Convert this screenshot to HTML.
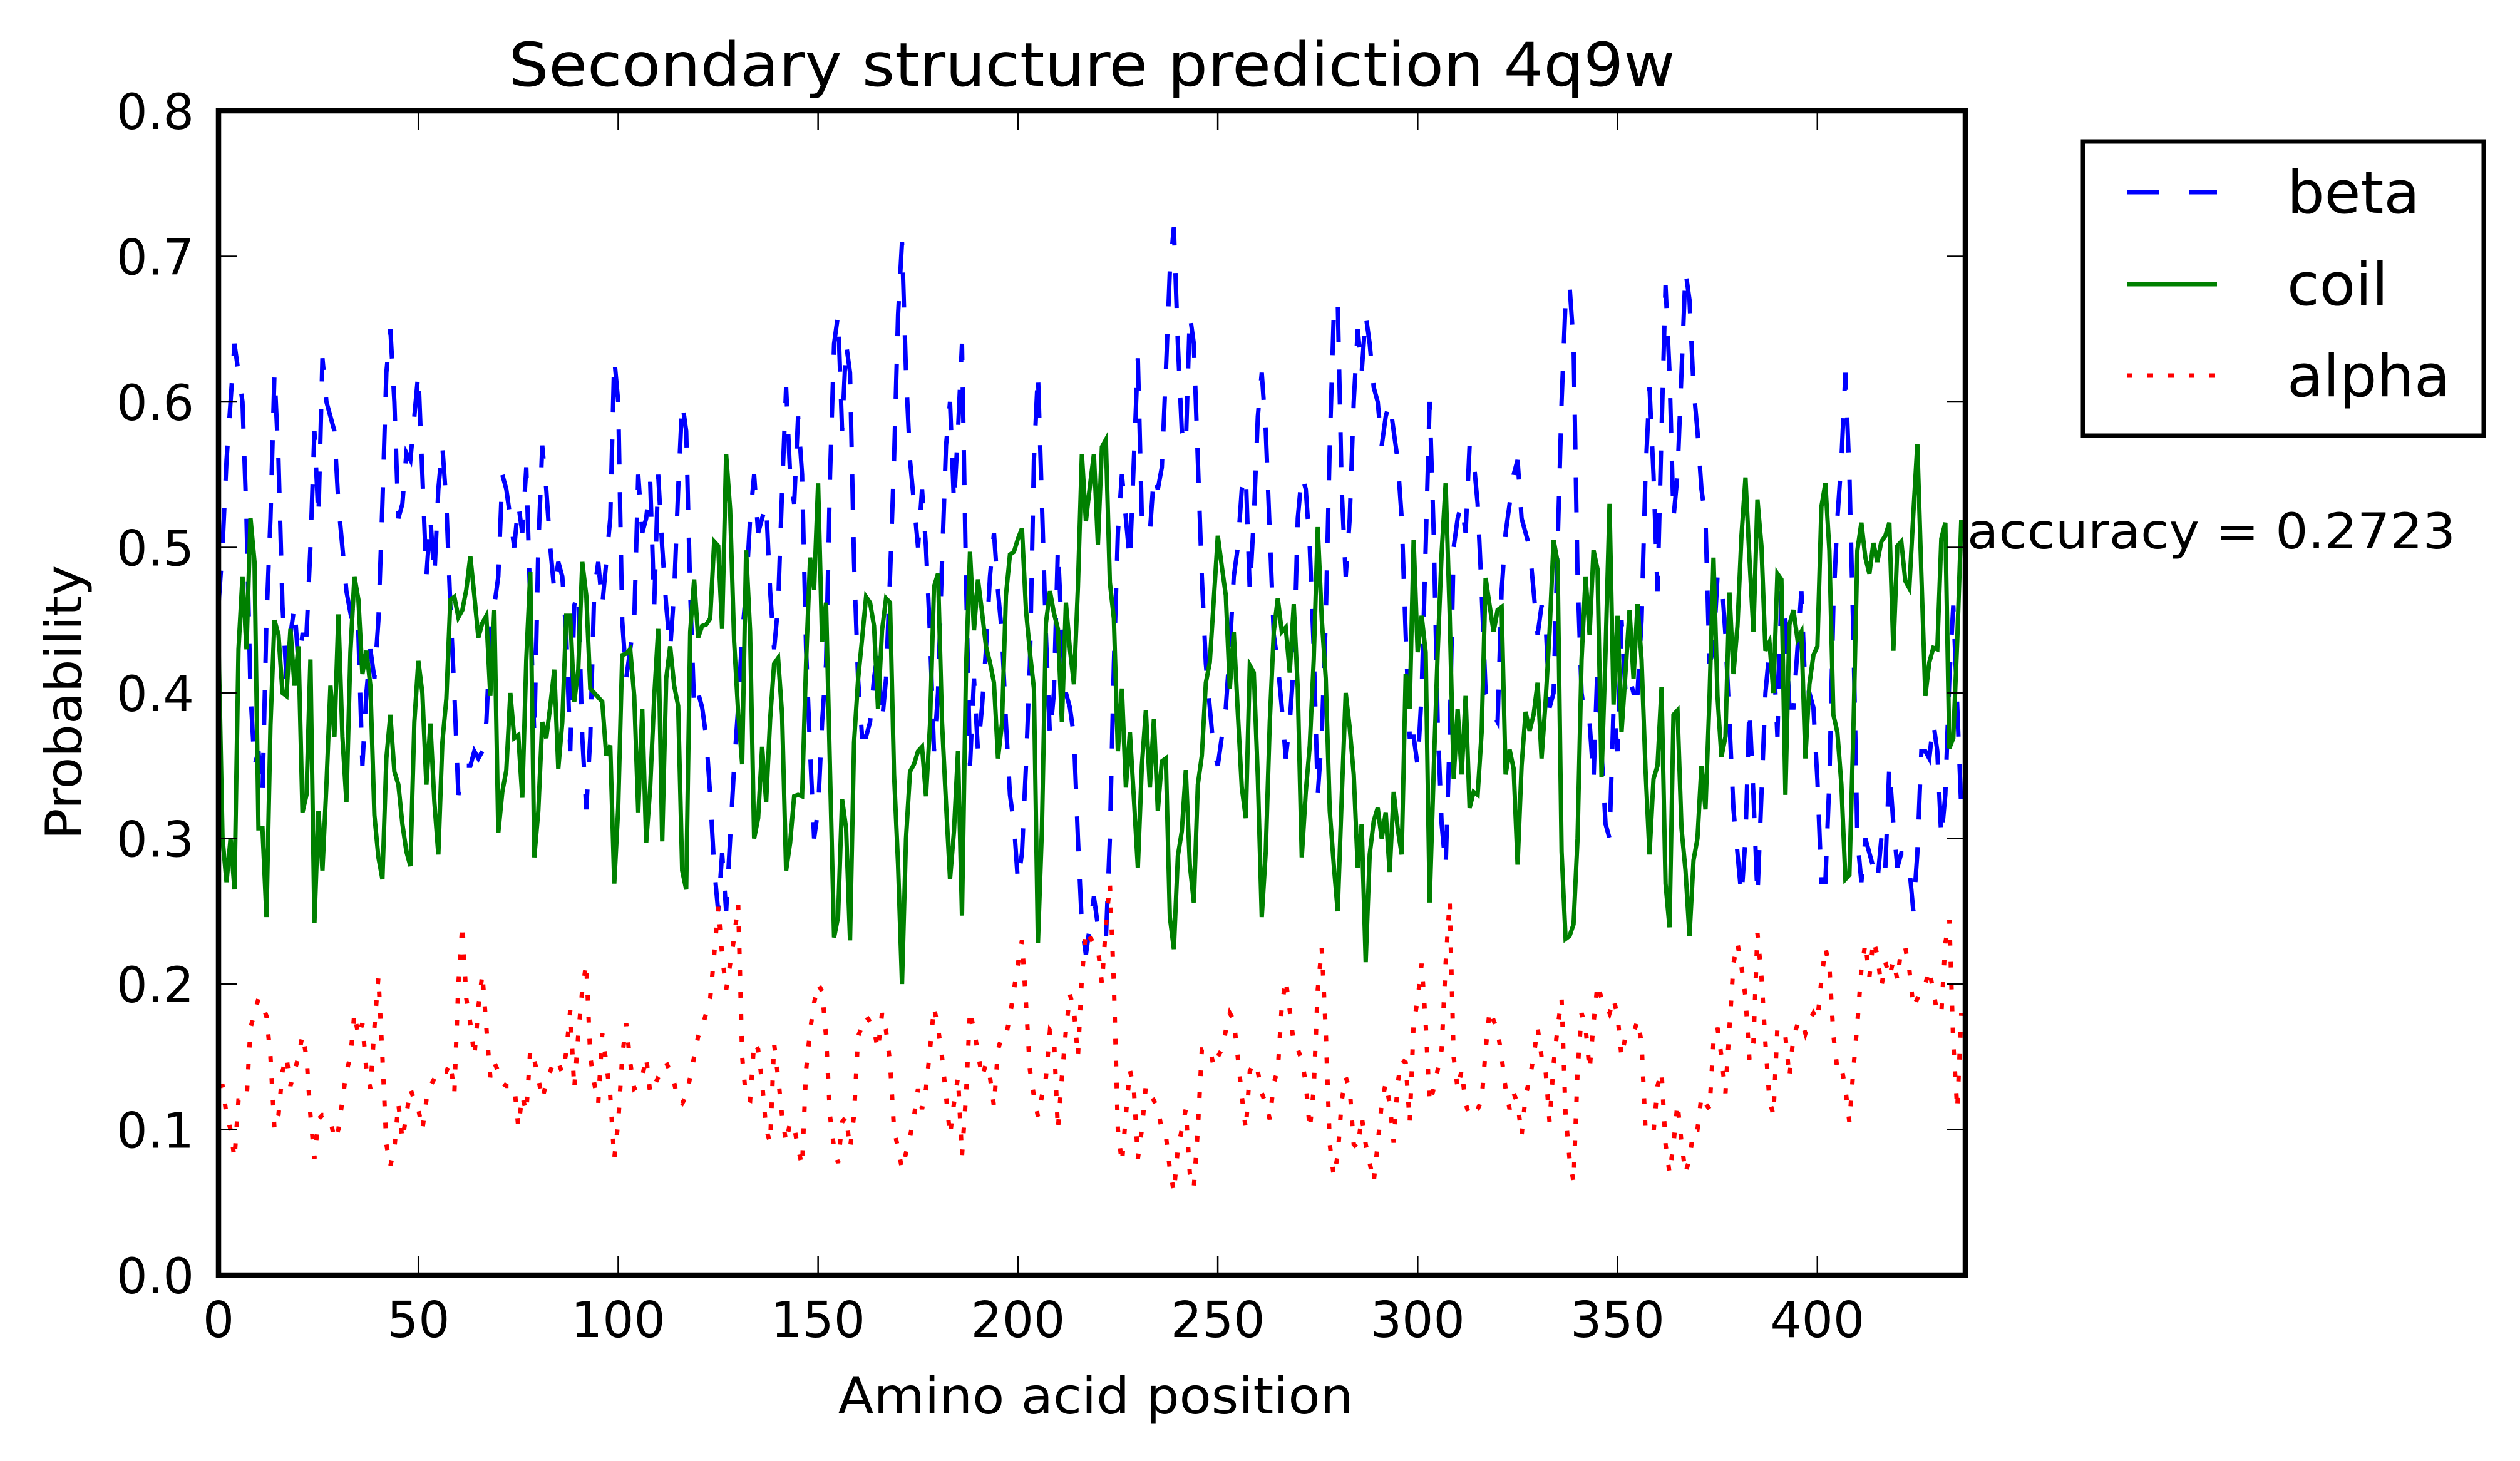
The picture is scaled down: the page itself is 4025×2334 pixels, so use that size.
<!DOCTYPE html>
<html><head><meta charset="utf-8"><style>
html,body{margin:0;padding:0;background:#fff;}
svg{display:block;font-family:"DejaVu Sans","Liberation Sans",sans-serif;}
</style></head><body>
<svg id="chart" width="4025" height="2334" viewBox="0 0 4025 2334" xmlns="http://www.w3.org/2000/svg">
<rect x="0" y="0" width="4025" height="2334" fill="#fff"/>
<text x="1744" y="137" font-size="96" text-anchor="middle" textLength="1863" lengthAdjust="spacingAndGlyphs">Secondary structure prediction 4q9w</text>
<g id="series"></g>
<g id="axes"></g>
<text x="1750" y="2258" font-size="80" text-anchor="middle" textLength="823" lengthAdjust="spacingAndGlyphs">Amino acid position</text>
<text transform="translate(130,1122) rotate(-90)" font-size="80" text-anchor="middle" textLength="439" lengthAdjust="spacingAndGlyphs">Probability</text>
<text x="3142" y="876" font-size="78" textLength="780" lengthAdjust="spacingAndGlyphs">accuracy = 0.2723</text>
<g>
<rect x="3327" y="226" width="640" height="470" fill="#fff" stroke="#000" stroke-width="7"/>
<line x1="3397" y1="307" x2="3541" y2="307" stroke="#0000ff" stroke-width="7" stroke-dasharray="52 48"/>
<text x="3653" y="340" font-size="94">beta</text>
<line x1="3397" y1="454" x2="3541" y2="454" stroke="#008000" stroke-width="7"/>
<text x="3653" y="487" font-size="94">coil</text>
<line x1="3397" y1="600" x2="3541" y2="600" stroke="#ff0000" stroke-width="7" stroke-dasharray="9 24"/>
<text x="3653" y="633" font-size="94">alpha</text>
</g>
</svg>
<script>
const xTicks = [0,50,100,150,200,250,300,350,400];
const yTicks = [0.0,0.1,0.2,0.3,0.4,0.5,0.6,0.7,0.8];
const yTickLabels = ["0.0","0.1","0.2","0.3","0.4","0.5","0.6","0.7","0.8"];
const xDomain = [0,437];
const yDomain = [0,0.8];
const coilValues = [
0.437,0.30,0.27,0.30,0.265,0.43,0.48,0.43,0.52,0.49,
0.307,0.307,0.246,0.378,0.45,0.44,0.40,0.398,0.444,0.405,
0.432,0.318,0.33,0.423,0.242,0.319,0.278,0.337,0.405,0.37,
0.454,0.37,0.325,0.428,0.48,0.464,0.413,0.429,0.405,0.316,
0.287,0.272,0.355,0.385,0.346,0.337,0.31,0.291,0.281,0.38,
0.422,0.40,0.337,0.379,0.325,0.289,0.366,0.396,0.464,0.466,0.452,
0.457,0.471,0.494,0.467,0.438,0.448,0.453,0.398,0.457,0.304,
0.332,0.347,0.40,0.369,0.371,0.328,0.423,0.483,0.287,0.319,0.38,
0.369,0.391,0.416,0.348,0.38,0.453,0.453,0.394,0.416,0.49,
0.467,0.403,0.40,0.397,0.394,0.357,0.364,0.269,0.321,0.426,
0.427,0.43,0.398,0.318,0.389,0.297,0.335,0.397,0.444,
0.298,0.41,0.432,0.405,0.391,0.278,0.265,0.442,0.478,0.438,
0.446,0.447,0.451,0.504,0.501,0.444,0.564,0.526,0.435,0.387,
0.351,0.498,0.442,0.30,0.314,0.363,0.325,0.382,0.42,0.424,
0.385,0.278,0.297,0.329,0.33,0.329,0.421,0.493,0.471,0.544,
0.435,0.462,0.345,0.232,0.246,0.327,0.307,0.23,0.366,0.409,
0.437,0.466,0.462,0.446,0.389,0.443,0.465,0.462,0.344,0.282,
0.20,0.30,0.346,0.351,0.36,0.363,0.329,0.378,0.473,0.482,
0.38,0.324,0.272,0.305,0.36,0.247,0.416,0.497,0.443,0.478,
0.456,0.432,0.421,0.407,0.355,0.379,0.467,0.495,0.497,0.506,
0.513,0.457,0.428,0.403,0.228,0.307,0.448,0.47,0.455,0.444,
0.38,0.462,0.43,0.406,0.473,0.564,0.518,0.542,0.564,0.502,
0.569,
0.574,0.476,0.451,0.36,0.403,0.335,0.373,0.328,0.28,0.35,
0.388,0.335,0.382,0.319,0.353,0.355,0.246,0.224,0.288,0.305,
0.347,0.282,0.256,0.337,0.357,0.407,0.421,0.464,0.508,0.487,
0.467,0.403,0.442,0.387,0.335,0.314,0.419,0.414,0.342,0.246,
0.291,0.38,0.442,0.465,0.442,0.445,0.414,0.461,0.403,0.287,
0.332,0.364,0.423,0.514,0.451,0.41,0.319,0.282,0.25,0.328,
0.40,0.376,0.344,0.28,0.31,0.215,0.289,0.312,0.321,0.30,
0.318,0.277,0.332,0.307,0.289,0.413,0.389,0.505,0.428,0.453,
0.428,0.256,0.346,0.428,0.496,0.544,0.455,0.341,0.389,
0.344,0.398,0.321,0.332,0.33,0.373,0.479,0.46,0.442,0.457,
0.459,0.344,0.361,0.348,0.282,0.35,0.387,0.374,0.385,0.407,
0.355,
0.394,0.442,0.505,0.49,0.291,0.231,0.233,0.241,0.30,0.423,
0.48,0.44,0.498,0.485,0.342,0.428,0.53,0.392,0.453,0.373,
0.414,0.457,0.41,0.461,0.423,0.348,0.289,0.341,0.35,0.404,
0.269,0.239,0.385,0.388,0.307,0.278,0.233,0.285,0.30,0.35,
0.32,0.396,0.493,0.398,0.356,0.37,0.469,0.413,0.446,0.508,
0.548,0.493,0.442,0.533,0.501,0.429,0.435,0.40,0.482,0.478,
0.33,0.447,0.457,0.437,0.442,0.355,0.406,0.426,0.432,0.528,
0.544,0.498,0.385,0.373,0.337,0.272,0.275,0.373,0.498,0.517,
0.493,0.482,0.503,0.49,0.504,0.508,0.517,0.429,0.501,0.504,
0.477,0.472,0.523,0.571,0.482,0.398,0.421,0.431,0.43,0.506,
0.517,0.362,0.369,0.437,0.519];
const betaValues = [
.46,.50,.56,.60,.64,.62,.60,.52,.40,.35,
.36,.33,.45,.52,.62,.56,.46,.41,.44,.46,
.42,.44,.44,.50,.58,.52,.63,.60,.59,.58,
.53,.50,.47,.455,.46,.44,.35,.40,.43,.41,
.45,.53,.62,.65,.60,.52,.53,.565,.56,.59,
.62,.55,.48,.52,.48,.54,.57,.53,.46,.40,
.33,.34,.35,.35,.36,.355,.36,.38,.44,.46,
.48,.55,.54,.52,.50,.53,.51,.555,.46,.37,
.50,.57,.54,.50,.47,.49,.48,.44,.36,.46,
.47,.37,.32,.37,.47,.49,.46,.49,.52,.63,
.60,.45,.41,.43,.45,.55,.51,.52,.545,.46,
.55,
.50,.46,.43,.47,.54,.60,.58,.47,.39,.40,
.39,.37,.33,.28,.25,.29,.25,.30,.35,.39,
.44,.47,.52,.55,.51,.52,.53,.47,.43,.46,
.54,.61,.55,.53,.59,.55,.43,.36,.30,.32,
.38,.42,.55,.64,.66,.58,.64,.62,.49,.41,
.37,.37,.38,.41,.43,.38,.41,.48,.56,.66,
.71,.62,.56,.53,.50,.54,.50,.44,.36,.40,
.49,.57,.60,.53,.58,.64,.48,.35,.41,.36,
.39,.43,.48,.51,.47,.44,.38,.33,.31,.27,
.29,.35,.42,.56,.62,.53,.44,.37,.40,.50,
.44,.40,.39,.37,.30,.24,.22,.24,.26,.24,
.24,
.23,.30,.42,.51,.55,.52,.49,.56,.63,.52,
.52,.51,.55,.54,.555,.62,.69,.72,.64,.58,
.57,.66,.64,.56,.48,.42,.39,.36,.35,.37,
.39,.43,.48,.50,.54,.55,.47,.52,.59,.62,
.58,.51,.44,.42,.39,.355,.38,.42,.52,.55,
.54,.50,.43,.33,.37,.45,.57,.66,.67,.54,
.48,.52,.60,.65,.62,.66,.64,.61,.60,.57,
.59,.60,.58,.56,.52,.44,.37,.37,.35,.40,
.50,.60,.51,.38,.31,.28,.37,.50,.52,.53,
.51,.57,.56,.53,.47,.40,.39,.385,.38,.47,
.51,.53,.55,.56,.52,.51,.50,.47,.44,.46,
.45,.39,.40,.50,.60,.67,.68,.64,.48,.40,
.38,.38,.34,.42,.36,.31,.30,.39,.36,.45,
.40,.41,.40,.40,.45,.55,.61,.55,.47,.58,
.68,.62,.52,.55,.62,.69,.67,.61,.58,.54,
.52,.42,.43,.48,.48,.44,.38,.32,.29,.26,
.30,.39,.33,.26,.33,.40,.43,.43,.37,.47,
.45,.39,.39,.43,.47,.40,.40,.39,.34,.27,
.27,.34,.46,.52,.56,.62,.55,.44,.30,.27,
.30,.29,.28,.27,.30,.28,.35,.31,.28,.29,
.29,.28,.25,.29,.36,.36,.355,.38,.36,.30,
.33,.41,.46,.39,.32];
const alphaValues = [
.13,.13,.11,.10,.08,.12,.12,.12,.17,.18,
.19,.185,.178,.15,.10,.11,.14,.15,.13,.14,
.15,.165,.15,.11,.08,.107,.11,.11,.107,.093,
.10,.12,.14,.15,.18,.164,.173,.141,.128,.17,
.205,.15,.09,.075,.087,.118,.093,.11,.128,.12,
.114,.10,.12,.13,.135,.141,.14,.14,.146,.125,
.20,.241,.19,.173,.15,.184,.207,.17,.136,.146,
.14,.132,.13,.13,.13,.102,.123,.112,.155,.148,
.135,.121,.132,.14,.148,.146,.139,.153,.182,.128,
.165,.196,.214,.15,.132,.118,.166,.146,.123,.08,
.105,.15,.173,.146,.128,.13,.136,.15,.125,.13,
.136,
.14,.146,.14,.132,.12,.118,.123,.136,.15,.164,
.17,.18,.19,.22,.253,.22,.196,.214,.232,.255,
.15,.121,.12,.16,.155,.132,.10,.091,.159,.136,
.109,.091,.105,.102,.087,.075,.141,.168,.187,.20,
.195,.164,.109,.087,.077,.105,.109,.087,.11,.164,
.171,.178,.174,.168,.155,.18,.168,.146,.10,.087,
.073,.084,.095,.109,.128,.114,.128,.155,.184,.17,
.15,.123,.096,.118,.136,.082,.123,.182,.168,.153,
.136,.145,.136,.116,.155,.164,.164,.178,.196,.214,
.23,.187,.141,.123,.109,.123,.136,.168,.164,.10,
.136,.168,.193,.182,.15,.205,.237,.232,.228,.225,
.20,
.24,.269,.20,.10,.077,.11,.141,.128,.08,.10,
.13,.125,.12,.114,.10,.096,.073,.057,.087,.10,
.114,.07,.06,.10,.155,.155,.156,.143,.15,.155,
.168,.18,.175,.15,.123,.10,.14,.146,.14,.125,
.118,.107,.132,.141,.185,.203,.182,.159,.155,.148,
.132,.10,.128,.196,.225,.168,.09,.068,.082,.12,
.136,.128,.09,.087,.109,.09,.077,.064,.09,.118,
.132,.118,.091,.132,.148,.146,.105,.173,.189,.214,
.173,.118,.128,.141,.155,.214,.257,.15,.128,.141,
.118,.109,.112,.114,.12,.155,.182,.175,.168,.15,
.128,.114,.125,.118,.096,.123,.135,.15,.17,.15,
.141,.105,.145,.17,.19,.11,.08,.064,.14,.18,
.17,.141,.173,.20,.19,.187,.18,.19,.178,.15,
.164,.165,.166,.175,.16,.10,.097,.098,.13,.14,
.09,.07,.09,.118,.091,.07,.08,.10,.10,.123,
.118,.114,.16,.17,.15,.125,.17,.214,.228,.212,
.191,.148,.16,.235,.205,.159,.12,.11,.17,.165,
.164,.136,.164,.172,.175,.166,.175,.18,.175,.203,
.225,.212,.165,.141,.143,.128,.105,.141,.173,.21,
.228,.205,.23,.22,.198,.215,.205,.216,.203,.225,
.225,.21,.184,.19,.196,.20,.21,.195,.18,.18,
.228,.244,.159,.114,.18];

const NS = "http://www.w3.org/2000/svg";
const PL = 349, PR = 3139, PT = 177, PB = 2037;
function xScale(v){ return PL + (v - xDomain[0]) / (xDomain[1] - xDomain[0]) * (PR - PL); }
function yScale(v){ return PB - (v - yDomain[0]) / (yDomain[1] - yDomain[0]) * (PB - PT); }
function mk(tag, attrs, parent){
  const el = document.createElementNS(NS, tag);
  for (const k in attrs) el.setAttribute(k, attrs[k]);
  parent.appendChild(el);
  return el;
}
const series = document.getElementById('series');
const axes = document.getElementById('axes');

function drawSeries(values, color, dash, name){
  const pts = values.map((v,i)=> xScale(i).toFixed(1)+','+yScale(v).toFixed(1)).join(' ');
  const attrs = {points: pts, fill: 'none', stroke: color, 'stroke-width': 7, 'stroke-linejoin': 'miter'};
  if (dash) attrs['stroke-dasharray'] = dash;
  const el = mk('polyline', attrs, series);
  
  
}
drawSeries(betaValues, '#0000ff', '56 44', 'beta-line');
drawSeries(coilValues, '#008000', null, 'coil-line');
drawSeries(alphaValues, '#ff0000', '9 26', 'alpha-line');

mk('rect', {x: PR + 4, y: PT - 30, width: 160, height: PB - PT + 60, fill: '#fff'}, series);

const frame = mk('rect', {x: PL, y: PT, width: PR - PL, height: PB - PT, fill: 'none', stroke: '#000', 'stroke-width': 8.5}, axes);



xTicks.forEach((t)=>{
  const x = xScale(t);
  const a = mk('line', {x1: x, y1: PB, x2: x, y2: PB - 30, stroke: '#000', 'stroke-width': 2.5}, axes);
  
  
  const b = mk('line', {x1: x, y1: PT, x2: x, y2: PT + 30, stroke: '#000', 'stroke-width': 2.5}, axes);
  
  
  const lbl = mk('text', {x: x, y: 2136, 'font-size': 79, 'text-anchor': 'middle'}, axes);
  lbl.textContent = String(t);
  
  
});
yTicks.forEach((t,i)=>{
  const y = yScale(t);
  const a = mk('line', {x1: PL, y1: y, x2: PL + 30, y2: y, stroke: '#000', 'stroke-width': 2.5}, axes);
  
  
  const b = mk('line', {x1: PR, y1: y, x2: PR - 30, y2: y, stroke: '#000', 'stroke-width': 2.5}, axes);
  
  
  const lbl = mk('text', {x: 310, y: y + 29, 'font-size': 78, 'text-anchor': 'end'}, axes);
  lbl.textContent = yTickLabels[i];
  
  
});
</script>
</body></html>
